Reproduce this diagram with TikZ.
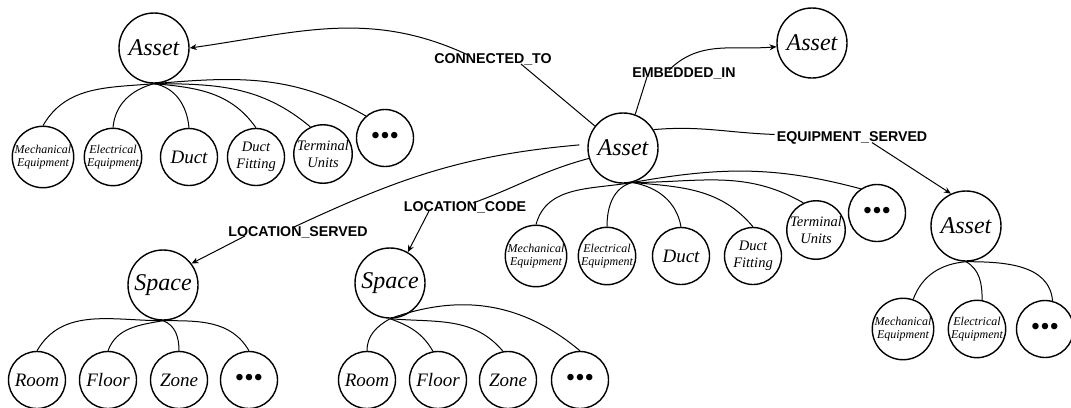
\documentclass[tikz,border=0pt]{standalone}
\usepackage{fontspec}
\setmainfont{Liberation Serif}
\setsansfont{Liberation Sans}
\usetikzlibrary{arrows.meta}
\begin{document}
\begin{tikzpicture}[x=1pt,y=-1pt,
  bignode/.style={draw, circle, minimum size=70pt, inner sep=0pt, line width=1.4pt, font=\fontsize{24}{24}\selectfont\itshape},
  kid/.style={draw, circle, minimum size=57pt, inner sep=0pt, line width=1.4pt, align=center, font=\fontsize{19}{19}\selectfont\itshape},
  smalltxt/.style={font=\fontsize{12}{13.5}\selectfont\itshape},
  midtxt/.style={font=\fontsize{14.5}{17}\selectfont\itshape},
  dotsbox/.style={kid, font=\fontsize{27}{27}\selectfont},
  rel/.style={font=\fontsize{14.2}{14.2}\selectfont\sffamily\bfseries, inner sep=2pt},
  lnk/.style={line width=1pt},
  arr/.style={lnk, -{Stealth[length=7pt,width=6pt]}}]
\useasboundingbox (0,0) rectangle (1071,407);

% ---- top-left Asset tree
\node[bignode] (a1) at (154,48) {Asset};
\node[kid,smalltxt] (a1m) at (43,157) {Mechanical\\Equipment};
\node[kid,smalltxt] (a1e) at (113,157) {Electrical\\Equipment};
\node[kid] (a1d) at (189,157) {Duct};
\node[kid,midtxt] (a1f) at (256,157) {Duct\\Fitting};
\node[kid,midtxt] (a1t) at (323,154) {Terminal\\Units};
\node[dotsbox] (a1x) at (385,138) {\textbullet\textbullet\textbullet};
\draw[lnk] (a1.south) to[out=185,in=60] (a1m.north);
\draw[lnk] (a1.south) to[out=195,in=85] (a1e.north);
\draw[lnk] (a1.south) to[out=-10,in=95] (a1d.north);
\draw[lnk] (a1.south) to[out=-5,in=125] (a1f.north);
\draw[lnk] (a1.south) to[out=0,in=140] (a1t.115);
\draw[lnk] (a1.south) to[out=5,in=150] (a1x.131);

% ---- central Asset tree
\node[bignode] (a0) at (623,148) {Asset};
\node[kid,smalltxt] (a0m) at (536,256) {Mechanical\\Equipment};
\node[kid,smalltxt] (a0e) at (607,256) {Electrical\\Equipment};
\node[kid] (a0d) at (681,256) {Duct};
\node[kid,midtxt] (a0f) at (753,256) {Duct\\Fitting};
\node[kid,midtxt] (a0t) at (816,230) {Terminal\\Units};
\node[dotsbox] (a0x) at (877,213) {\textbullet\textbullet\textbullet};
\draw[lnk] (a0.-75) to[out=190,in=75] (a0m.north);
\draw[lnk] (a0.-75) to[out=195,in=90] (a0e.north);
\draw[lnk] (a0.-75) to[out=-10,in=100] (a0d.north);
\draw[lnk] (a0.-75) to[out=-5,in=130] (a0f.north);
\draw[lnk] (a0.-75) to[out=0,in=150] (a0t.115);
\draw[lnk] (a0.-75) to[out=10,in=165] (a0x.124);

% ---- top-right Asset
\node[bignode] (a2) at (812,43) {Asset};

% ---- lower-right Asset tree
\node[bignode] (a3) at (966,226) {Asset};
\node[kid,smalltxt] (a3m) at (903,329) {Mechanical\\Equipment};
\node[kid,smalltxt] (a3e) at (977,329) {Electrical\\Equipment};
\node[dotsbox] (a3x) at (1045,329) {\textbullet\textbullet\textbullet};
\draw[lnk] (a3.south) to[out=185,in=70] (a3m.71);
\draw[lnk] (a3.south) to[out=-30,in=90] (a3e.80);
\draw[lnk] (a3.south) to[out=0,in=95] (a3x.75);

% ---- Space 1 tree
\node[bignode] (s1) at (163,285) {Space};
\node[kid] (s1r) at (37,380) {Room};
\node[kid] (s1f) at (108,380) {Floor};
\node[kid] (s1z) at (179,380) {Zone};
\node[dotsbox] (s1x) at (249,380) {\textbullet\textbullet\textbullet};
\draw[lnk] (s1.south) to[out=180,in=60] (s1r.north);
\draw[lnk] (s1.south) to[out=190,in=70] (s1f.north);
\draw[lnk] (s1.south) to[out=-20,in=90] (s1z.north);
\draw[lnk] (s1.south) to[out=0,in=120] (s1x.north);

% ---- Space 2 tree
\node[bignode] (s2) at (390,283) {Space};
\node[kid] (s2r) at (367,380) {Room};
\node[kid] (s2f) at (438,380) {Floor};
\node[kid] (s2z) at (508,380) {Zone};
\node[dotsbox] (s2x) at (580,380) {\textbullet\textbullet\textbullet};
\draw[lnk] (s2.south) to[out=210,in=90] (s2r.north);
\draw[lnk] (s2.south) to[out=-20,in=120] (s2f.100);
\draw[lnk] (s2.south) to[out=-5,in=130] (s2z.100);
\draw[lnk] (s2.south) to[out=20,in=140] (s2x.north);

% ---- relationship labels
\node[rel] (ct) at (493,59) {CONNECTED\_TO};
\node[rel] (em) at (684,73) {EMBEDDED\_IN};
\node[rel] (es) at (852,138) {EQUIPMENT\_SERVED};
\node[rel] (ls) at (298,232) {LOCATION\_SERVED};
\node[rel] (lc) at (465,207) {LOCATION\_CODE};

% CONNECTED_TO
\draw[lnk] (a0.142) -- ([xshift=28pt,yshift=3pt]ct.south);
\draw[arr] ([xshift=-25pt,yshift=-4pt]ct.north) to[out=155,in=8] (a1.east);
% EMBEDDED_IN
\draw[lnk] (a0.70) -- ([xshift=-37pt,yshift=4pt]em.south);
\draw[arr] ([xshift=-15pt,yshift=-5pt]em.north) to[out=45,in=185] (a2.186);
% EQUIPMENT_SERVED
\draw[lnk] (a0.31) to[out=5,in=178] ([yshift=-5pt]es.north west);
\draw[arr] ([xshift=20pt,yshift=4pt]es.south) -- (a3.115);
% LOCATION_SERVED
\draw[lnk] ([xshift=-8pt]a0.175) to[out=185,in=25] ([xshift=-6pt,yshift=-4pt]ls.north);
\draw[arr] ([xshift=-53pt,yshift=4pt]ls.south) -- (s1.37);
% LOCATION_CODE
\draw[lnk] (a0.197) to[out=195,in=20] ([xshift=8pt,yshift=-4pt]lc.north);
\draw[arr] ([xshift=-36pt,yshift=4pt]lc.south) -- (s2.60);
\end{tikzpicture}
\end{document}
